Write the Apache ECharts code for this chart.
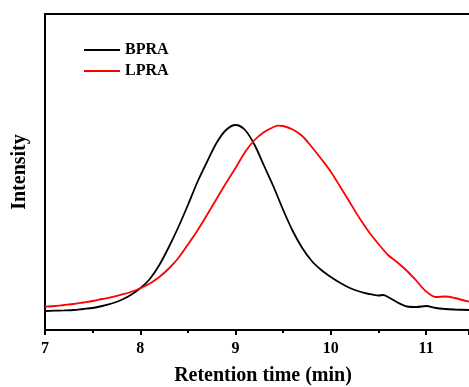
<!DOCTYPE html>
<html>
<head>
<meta charset="utf-8">
<script src="https://cdn.jsdelivr.net/npm/echarts@6/dist/echarts.min.js"></script>
<style>
html,body{margin:0;padding:0;background:#fff;}
#chart{width:469px;height:387px;}
</style>
</head>
<body>
<div id="chart"></div>
<script>
const bpraTime = [7.0, 7.1, 7.2, 7.3, 7.4, 7.5, 7.6, 7.7, 7.8, 7.9, 8.0, 8.1, 8.2, 8.3, 8.4, 8.5, 8.6, 8.7, 8.8, 8.9, 9.0, 9.1, 9.2, 9.3, 9.4, 9.5, 9.6, 9.7, 9.8, 9.9, 10.0, 10.1, 10.2, 10.3, 10.4, 10.5, 10.55, 10.6, 10.7, 10.8, 10.9, 11.0, 11.1, 11.2, 11.3, 11.45];
const bpraValues = [19, 19.3, 19.6, 20, 21, 22, 24, 26.5, 30, 35, 41.7, 51, 65, 83, 103, 125, 148, 168, 187, 200, 205, 200, 185, 164, 143, 120, 99, 82, 69, 60, 53, 47, 42, 38.5, 36, 34.5, 35, 33, 27.5, 23.5, 23, 24, 22, 21, 20.5, 20];
const lpraTime = [7.0, 7.1, 7.2, 7.3, 7.4, 7.5, 7.6, 7.7, 7.8, 7.9, 8.0, 8.1, 8.2, 8.3, 8.4, 8.5, 8.6, 8.7, 8.8, 8.9, 9.0, 9.1, 9.2, 9.3, 9.4, 9.45, 9.5, 9.6, 9.7, 9.8, 9.9, 10.0, 10.1, 10.2, 10.3, 10.4, 10.5, 10.6, 10.7, 10.8, 10.9, 11.0, 11.1, 11.2, 11.3, 11.45];
const lpraValues = [23.3, 24, 25, 26, 27.5, 29, 31, 32.8, 35.3, 38, 41.7, 46.5, 53, 61.5, 72, 85.5, 99.5, 115, 131, 147, 162, 178, 190, 198, 203, 204.3, 204, 200.5, 194, 183, 171, 158.3, 143, 127.5, 112, 98, 86, 75, 67.5, 59, 49, 38.5, 33, 33.5, 32, 28.3];
const seriesNames = ['BPRA', 'LPRA'];
const xTicks = [7, 8, 9, 10, 11];

const font = '"Liberation Serif", "Times New Roman", serif';
const chart = echarts.init(document.getElementById('chart'));
const zip = (a, b) => a.map((v, i) => [v, b[i]]);
chart.setOption({
  animation: false,
  grid: {left: 45, right: 0, top: 14, bottom: 57, containLabel: false, outerBoundsMode: 'none'},
  legend: {
    orient: 'vertical', left: 84, top: 42, padding: 0,
    icon: 'rect', itemWidth: 36, itemHeight: 2, itemGap: 5, itemTextGap: 5,
    textStyle: {fontFamily: font, fontWeight: 'bold', fontSize: 16, lineHeight: 16, color: '#000'},
    data: seriesNames
  },
  xAxis: [{
    type: 'value', min: 7, max: 11.45, interval: 1,
    name: 'Retention time (min)', nameLocation: 'middle', nameGap: 36,
    nameTextStyle: {fontFamily: font, fontWeight: 'bold', fontSize: 20, color: '#000', padding: [0, 0, 0, 12]},
    axisLine: {show: true, lineStyle: {color: '#000', width: 2}},
    axisTick: {show: true, length: 5, lineStyle: {color: '#000', width: 2}},
    minorTick: {show: true, splitNumber: 2, length: 3, lineStyle: {color: '#000', width: 2}},
    axisLabel: {
      margin: 11, fontFamily: font, fontWeight: 'bold', fontSize: 16, color: '#000',
      formatter: v => xTicks.includes(v) ? String(v) : ''
    },
    splitLine: {show: false}
  }, {
    type: 'value', position: 'top', min: 7, max: 11.45,
    axisLine: {show: true, lineStyle: {color: '#000', width: 2}},
    axisTick: {show: false}, axisLabel: {show: false}, splitLine: {show: false}
  }],
  yAxis: {
    type: 'value', min: 0, max: 316,
    name: 'Intensity', nameLocation: 'middle', nameGap: 15,
    nameTextStyle: {fontFamily: font, fontWeight: 'bold', fontSize: 20, color: '#000'},
    axisLine: {show: true, lineStyle: {color: '#000', width: 2}},
    axisTick: {show: false}, axisLabel: {show: false}, splitLine: {show: false}
  },
  series: [{
    name: seriesNames[0], type: 'line', data: zip(bpraTime, bpraValues),
    symbol: 'none', smooth: 0.3, lineStyle: {color: '#000', width: 1.8}, itemStyle: {color: '#000'}
  }, {
    name: seriesNames[1], type: 'line', data: zip(lpraTime, lpraValues),
    symbol: 'none', smooth: 0.3, lineStyle: {color: '#ff0000', width: 1.8}, itemStyle: {color: '#ff0000'}
  }]
});
</script>
</body>
</html>
